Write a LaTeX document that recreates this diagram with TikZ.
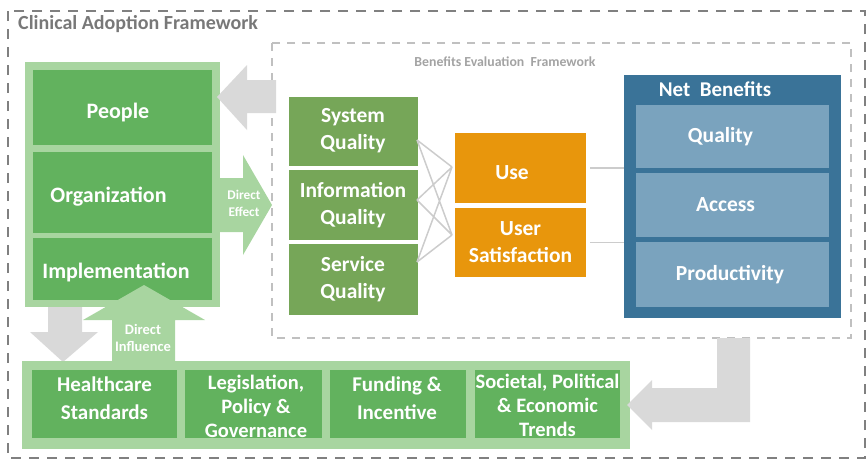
\documentclass[tikz,border=0pt]{standalone}
\usepackage{fontspec}
\setmainfont{Carlito}
\definecolor{lightg}{RGB}{168,213,160}
\definecolor{darkg}{RGB}{98,178,94}
\definecolor{oliveg}{RGB}{118,166,88}
\definecolor{orng}{RGB}{232,150,12}
\definecolor{navy}{RGB}{58,115,152}
\definecolor{lblue}{RGB}{122,163,190}
\definecolor{arrgray}{RGB}{217,217,217}
\definecolor{linegray}{RGB}{204,204,204}
\definecolor{outerdash}{RGB}{128,128,128}
\definecolor{innerdash}{RGB}{192,192,192}
\definecolor{titlegray}{RGB}{120,120,120}
\tikzset{
  box/.style={rectangle, inner sep=0pt, text=white, align=center,
    font=\bfseries\fontsize{21.5}{27}\selectfont},
  lbox/.style={box, fill=darkg, minimum width=179, font=\bfseries\fontsize{22}{26}\selectfont},
  ltext/.style={box, font=\bfseries\fontsize{22}{26}\selectfont},
  bbox/.style={box, font=\bfseries\fontsize{21}{28}\selectfont},
  tbox/.style={box, font=\bfseries\fontsize{20.5}{24}\selectfont},
  conn/.style={draw=linegray, line width=1.6pt},
  fatarrow/.style={fill=arrgray},
  greenarrow/.style={fill=lightg},
}
\begin{document}
\begin{tikzpicture}[x=1pt,y=-1pt]
\useasboundingbox (0,0) rectangle (867,461);
% outer framework
\draw[outerdash, line width=2.2pt, dash pattern=on 10pt off 8pt] (8,11) rectangle (865,458);
\node[anchor=west, text=titlegray, font=\bfseries\fontsize{20}{22}\selectfont, inner sep=0pt] (title) at (18,24) {Clinical Adoption Framework};
% inner benefits evaluation framework
\draw[innerdash, line width=1.6pt, dash pattern=on 8pt off 7pt] (272,43) rectangle (851,338);
\node[text=innerdash!85!black, font=\bfseries\fontsize{13.8}{15}\selectfont, inner sep=0pt] (betitle) at (505,62) {Benefits Evaluation\ \ Framework};

% left panel
\fill[lightg] (25,62) rectangle (220,307);
\node[lbox, minimum height=75] (people) at (122.5,107.5) {};
\node[ltext] (peoplet) at (118,112.5) {People};
\node[lbox, minimum height=81] (org) at (122.5,192) {};
\node[ltext] (orgt) at (108.5,197) {Organization};
\node[lbox, minimum height=62] (impl) at (122.5,269) {};
\node[ltext] (implt) at (116,272) {Implementation};

% arrow back to People
\fill[fatarrow] (217,97) -- (247,65) -- (247,80) -- (276,80) -- (276,113) -- (247,113) -- (247,130) -- cycle;
% Direct Effect arrow
\fill[greenarrow] (220,178) -- (243,178) -- (243,155) -- (272,205) -- (243,255) -- (243,232) -- (220,232) -- cycle;
\node[text=white, font=\bfseries\fontsize{13.3}{17}\selectfont, align=center, inner sep=0pt] (deff) at (244,203) {Direct\\Effect};

% quality boxes
\node[box, fill=oliveg, minimum width=129, minimum height=69] (sysq) at (353,131) {System\\Quality};
\node[box, fill=oliveg, minimum width=129, minimum height=70] (infq) at (353,205) {Information\\Quality};
\node[box, fill=oliveg, minimum width=129, minimum height=71] (serq) at (353,279.5) {Service\\Quality};

% use / satisfaction
\node[box, fill=orng, minimum width=131, minimum height=70] (use) at (520.5,168) {};
\node[box] (uset) at (512,173) {Use};
\node[box, fill=orng, minimum width=131, minimum height=69] (usat) at (520.5,242.5) {User\\Satisfaction};

% crossing connectors
\coordinate (s1) at (417,140);
\coordinate (s2) at (417,200);
\coordinate (s3) at (417,262);
\coordinate (cu) at (452,167);
\coordinate (cs) at (452,235);
\draw[conn, line width=1.5pt] (s1) -- (cu) (s1) -- (cs)
  (s2) -- (cu) (s2) -- (cs)
  (s3) -- (cu) (s3) -- (cs);

% net benefits
\node[fill=navy, minimum width=217, minimum height=243, inner sep=0pt] (nb) at (732.5,196.5) {};
\node[text=white, font=\bfseries\fontsize{21}{23}\selectfont, inner sep=0pt] (nbtitle) at (715,89) {Net\hspace{0.45em}Benefits};
\node[box, fill=lblue, minimum width=193, minimum height=63] (qual) at (732.5,136.5) {\hspace{-24pt}Quality};
\node[box, fill=lblue, minimum width=193, minimum height=64] (acc) at (732.5,205) {\hspace{-14pt}Access};
\node[box, fill=lblue, minimum width=193, minimum height=65] (prod) at (732.5,274.5) {\hspace{-5pt}Productivity};

\draw[conn] ([xshift=4pt]use.east) -- (use.east -| nb.west);
\draw[conn] ([xshift=4pt]usat.east) -- (usat.east -| nb.west);

% down arrow to bottom panel
\fill[fatarrow] (48,307) -- (82,307) -- (82,332) -- (98,332) -- (63,362) -- (30,332) -- (48,332) -- cycle;
% Direct Influence arrow
\fill[greenarrow] (112,361) -- (112,320) -- (83,320) -- (144,285) -- (205,320) -- (175,320) -- (175,361) -- cycle;
\node[text=white, font=\bfseries\fontsize{14.5}{17}\selectfont, align=center, inner sep=0pt] (dinf) at (143,338) {Direct\\Influence};

% bottom panel
\fill[lightg] (22,361) rectangle (630,449);
\node[bbox, fill=darkg, minimum width=145, minimum height=68] (hcs) at (104.5,404) {};
\node[bbox, inner sep=0pt] (hcst) at (104.5,398) {Healthcare\\Standards};
\node[tbox, fill=darkg, minimum width=137, minimum height=68] (leg) at (253.5,404) {};
\node[tbox, inner sep=0pt] (legt) at (256,406) {Legislation,\\Policy \&\\Governance};
\node[bbox, fill=darkg, minimum width=136, minimum height=68] (fund) at (398,404) {};
\node[bbox, inner sep=0pt] (fundt) at (397,398.5) {Funding \&\\Incentive};
\node[tbox, fill=darkg, minimum width=145, minimum height=68] (soc) at (547.5,404) {};
\node[tbox, inner sep=0pt] (soct) at (547.5,405.5) {Societal, Political\\\& Economic\\Trends};

% L-shaped return arrow
\fill[fatarrow] (717,338) -- (750,338) -- (750,422) -- (652,422) -- (652,430) -- (627,405) -- (652,380) -- (652,388) -- (717,388) -- cycle;
\end{tikzpicture}
\end{document}
